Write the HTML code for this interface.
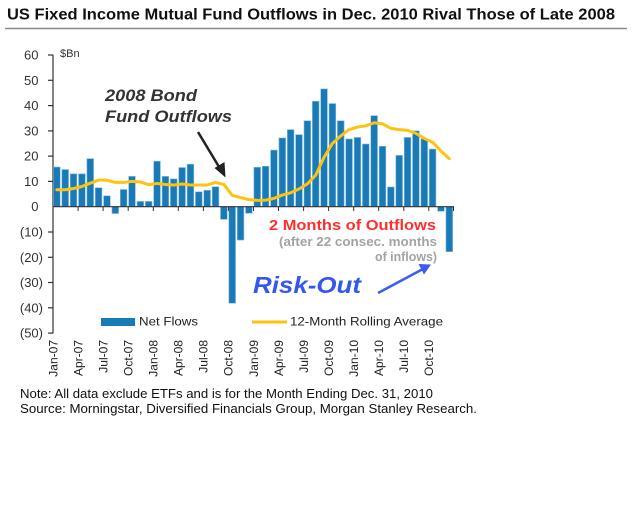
<!DOCTYPE html>
<html>
<head>
<meta charset="utf-8">
<style>
html,body{margin:0;padding:0;background:#fff;}
svg{display:block;}
text{font-family:"Liberation Sans",Arial,sans-serif;}
</style>
</head>
<body>
<svg width="640" height="511" viewBox="0 0 640 511" xmlns="http://www.w3.org/2000/svg">
<rect x="0" y="0" width="640" height="511" fill="#fff"/>
<!-- Title -->
<text x="7" y="19.5" font-size="16" font-weight="bold" fill="#111" textLength="608" lengthAdjust="spacingAndGlyphs">US Fixed Income Mutual Fund Outflows in Dec. 2010 Rival Those of Late 2008</text>
<line x1="5" y1="28.5" x2="627" y2="28.5" stroke="#8a8a8a" stroke-width="1.5"/>

<!-- Y axis labels -->
<g font-size="13" fill="#333" text-anchor="end">
<text x="38.5" y="59.5">60</text>
<text x="38.5" y="84.8">50</text>
<text x="38.5" y="110.1">40</text>
<text x="38.5" y="135.4">30</text>
<text x="38.5" y="160.6">20</text>
<text x="38.5" y="185.9">10</text>
<text x="38.5" y="211.2">0</text>
<text x="43" y="236.5">(10)</text>
<text x="43" y="261.8">(20)</text>
<text x="43" y="287.0">(30)</text>
<text x="43" y="312.3">(40)</text>
<text x="43" y="337.6">(50)</text>
</g>
<text x="60" y="57" font-size="11" fill="#333">$Bn</text>

<!-- Y ticks and axis -->
<g stroke="#333" stroke-width="1.2">
<line x1="53" y1="54.6" x2="53" y2="333.4"/>
<line x1="48" y1="55" x2="53" y2="55"/>
<line x1="48" y1="80.3" x2="53" y2="80.3"/>
<line x1="48" y1="105.6" x2="53" y2="105.6"/>
<line x1="48" y1="130.9" x2="53" y2="130.9"/>
<line x1="48" y1="156.1" x2="53" y2="156.1"/>
<line x1="48" y1="181.4" x2="53" y2="181.4"/>
<line x1="48" y1="232" x2="53" y2="232"/>
<line x1="48" y1="257.3" x2="53" y2="257.3"/>
<line x1="48" y1="282.5" x2="53" y2="282.5"/>
<line x1="48" y1="307.8" x2="53" y2="307.8"/>
<line x1="48" y1="333.1" x2="53" y2="333.1"/>
</g>

<!-- Bars -->
<g fill="#1a7ab5" stroke="#86bde0" stroke-width="0.6">
<rect x="53.5" y="167.01" width="6.7" height="39.69"/>
<rect x="61.85" y="169.54" width="6.7" height="37.16"/>
<rect x="70.2" y="173.84" width="6.7" height="32.86"/>
<rect x="78.55" y="173.84" width="6.7" height="32.86"/>
<rect x="86.9" y="158.67" width="6.7" height="48.03"/>
<rect x="95.25" y="187.74" width="6.7" height="18.96"/>
<rect x="103.6" y="195.83" width="6.7" height="10.87"/>
<rect x="111.95" y="206.7" width="6.7" height="6.83"/>
<rect x="120.3" y="189.51" width="6.7" height="17.19"/>
<rect x="128.65" y="176.36" width="6.7" height="30.34"/>
<rect x="137.0" y="201.39" width="6.7" height="5.31"/>
<rect x="145.35" y="201.39" width="6.7" height="5.31"/>
<rect x="153.7" y="161.2" width="6.7" height="45.5"/>
<rect x="162.05" y="176.36" width="6.7" height="30.34"/>
<rect x="170.4" y="178.89" width="6.7" height="27.81"/>
<rect x="178.75" y="167.52" width="6.7" height="39.18"/>
<rect x="187.1" y="164.23" width="6.7" height="42.47"/>
<rect x="195.45" y="191.78" width="6.7" height="14.92"/>
<rect x="203.8" y="190.27" width="6.7" height="16.43"/>
<rect x="212.15" y="186.73" width="6.7" height="19.97"/>
<rect x="220.5" y="206.7" width="6.7" height="12.64"/>
<rect x="228.85" y="206.7" width="6.7" height="96.57"/>
<rect x="237.2" y="206.7" width="6.7" height="33.37"/>
<rect x="245.55" y="206.7" width="6.7" height="6.57"/>
<rect x="253.9" y="167.26" width="6.7" height="39.44"/>
<rect x="262.25" y="166.25" width="6.7" height="40.45"/>
<rect x="270.6" y="150.07" width="6.7" height="56.63"/>
<rect x="278.95" y="137.94" width="6.7" height="68.76"/>
<rect x="287.3" y="129.6" width="6.7" height="77.1"/>
<rect x="295.65" y="134.65" width="6.7" height="72.05"/>
<rect x="304.0" y="120.75" width="6.7" height="85.95"/>
<rect x="312.35" y="101.28" width="6.7" height="105.42"/>
<rect x="320.7" y="88.9" width="6.7" height="117.8"/>
<rect x="329.05" y="103.56" width="6.7" height="103.14"/>
<rect x="337.4" y="120.75" width="6.7" height="85.95"/>
<rect x="345.75" y="138.95" width="6.7" height="67.75"/>
<rect x="354.1" y="137.43" width="6.7" height="69.27"/>
<rect x="362.45" y="144.01" width="6.7" height="62.69"/>
<rect x="370.8" y="115.69" width="6.7" height="91.01"/>
<rect x="379.15" y="146.28" width="6.7" height="60.42"/>
<rect x="387.5" y="186.98" width="6.7" height="19.72"/>
<rect x="395.85" y="155.38" width="6.7" height="51.32"/>
<rect x="404.2" y="137.43" width="6.7" height="69.27"/>
<rect x="412.55" y="130.86" width="6.7" height="75.84"/>
<rect x="420.9" y="138.95" width="6.7" height="67.75"/>
<rect x="429.25" y="149.06" width="6.7" height="57.64"/>
<rect x="437.6" y="206.7" width="6.7" height="4.55"/>
<rect x="445.95" y="206.7" width="6.7" height="45.0"/>
</g>

<!-- X axis -->
<line x1="53" y1="206.7" x2="454" y2="206.7" stroke="#333" stroke-width="1.2"/>
<g stroke="#333" stroke-width="1">
<line x1="78.1" y1="206.7" x2="211" y2="206.7" stroke="none"/>
<line x1="78.1" y1="206.7" x2="78.1" y2="211"/>
<line x1="103.1" y1="206.7" x2="103.1" y2="211"/>
<line x1="128.2" y1="206.7" x2="128.2" y2="211"/>
<line x1="153.3" y1="206.7" x2="153.3" y2="211"/>
<line x1="178.3" y1="206.7" x2="178.3" y2="211"/>
<line x1="203.4" y1="206.7" x2="203.4" y2="211"/>
<line x1="228.4" y1="206.7" x2="228.4" y2="211"/>
<line x1="253.5" y1="206.7" x2="253.5" y2="211"/>
<line x1="278.5" y1="206.7" x2="278.5" y2="211"/>
<line x1="303.6" y1="206.7" x2="303.6" y2="211"/>
<line x1="328.6" y1="206.7" x2="328.6" y2="211"/>
<line x1="353.7" y1="206.7" x2="353.7" y2="211"/>
<line x1="378.7" y1="206.7" x2="378.7" y2="211"/>
<line x1="403.8" y1="206.7" x2="403.8" y2="211"/>
<line x1="428.8" y1="206.7" x2="428.8" y2="211"/>
<line x1="453.5" y1="206.7" x2="453.5" y2="211"/>
</g>

<!-- Rolling average -->
<polyline fill="none" stroke="#ffc20e" stroke-width="3" stroke-linejoin="round" stroke-linecap="round"
points="56.85,189.76 65.2,189.76 73.55,188.5 81.9,186.5 90.25,183.19 98.6,180.16 106.95,180.16 115.3,182.43 123.65,182.43 132.0,181.42 140.35,181.93 148.7,184.71 157.05,183.44 165.4,184.45 173.75,184.96 182.1,183.95 190.45,184.96 198.8,184.96 207.15,184.96 215.5,182.43 223.85,184.45 232.2,195.3 240.55,197.6 248.9,199.62 257.25,200.38 265.6,200.13 273.95,198.36 282.3,195.07 290.65,192.8 299.0,189.0 307.35,183.95 315.7,175.1 324.05,157.4 332.4,143.5 340.75,135.9 349.1,129.6 357.45,127.07 365.8,125.8 374.15,122.77 382.5,123.78 390.85,128.33 399.2,129.6 407.55,130.35 415.9,133.39 424.25,138.44 432.6,142.24 440.95,151.08 449.3,158.67"/>

<!-- X labels -->
<g font-size="12" fill="#222" text-anchor="end">
<text transform="translate(57.4,340) rotate(-90)">Jan-07</text>
<text transform="translate(82.4,340) rotate(-90)">Apr-07</text>
<text transform="translate(107.5,340) rotate(-90)">Jul-07</text>
<text transform="translate(132.5,340) rotate(-90)">Oct-07</text>
<text transform="translate(157.6,340) rotate(-90)">Jan-08</text>
<text transform="translate(182.6,340) rotate(-90)">Apr-08</text>
<text transform="translate(207.7,340) rotate(-90)">Jul-08</text>
<text transform="translate(232.7,340) rotate(-90)">Oct-08</text>
<text transform="translate(257.8,340) rotate(-90)">Jan-09</text>
<text transform="translate(282.8,340) rotate(-90)">Apr-09</text>
<text transform="translate(307.9,340) rotate(-90)">Jul-09</text>
<text transform="translate(332.9,340) rotate(-90)">Oct-09</text>
<text transform="translate(358.0,340) rotate(-90)">Jan-10</text>
<text transform="translate(383.0,340) rotate(-90)">Apr-10</text>
<text transform="translate(408.1,340) rotate(-90)">Jul-10</text>
<text transform="translate(433.1,340) rotate(-90)">Oct-10</text>
</g>

<!-- Legend -->
<rect x="101" y="318" width="34" height="8" fill="#1a7ab5"/>
<text x="139" y="325.5" font-size="11.5" fill="#222" textLength="59" lengthAdjust="spacingAndGlyphs">Net Flows</text>
<line x1="252" y1="322" x2="287" y2="322" stroke="#ffc20e" stroke-width="3"/>
<text x="290" y="325.5" font-size="11.5" fill="#222" textLength="153" lengthAdjust="spacingAndGlyphs">12-Month Rolling Average</text>

<!-- 2008 annotation -->
<g font-size="17" font-weight="bold" font-style="italic" fill="#333">
<text x="105" y="101" textLength="92" lengthAdjust="spacingAndGlyphs">2008 Bond</text>
<text x="105" y="122" textLength="127" lengthAdjust="spacingAndGlyphs">Fund Outflows</text>
</g>
<line x1="198" y1="132" x2="220" y2="168.5" stroke="#222" stroke-width="2.5"/>
<polygon points="225.5,177.5 214.5,168 224.5,162" fill="#222"/>

<!-- Outflows annotation -->
<text x="269" y="230" font-size="14.5" font-weight="bold" fill="#ff2f2f" textLength="167" lengthAdjust="spacingAndGlyphs">2 Months of Outflows</text>
<text x="279" y="246" font-size="13" font-weight="bold" fill="#a3a3a3" textLength="158" lengthAdjust="spacingAndGlyphs">(after 22 consec. months</text>
<text x="375" y="261" font-size="13" font-weight="bold" fill="#a3a3a3" textLength="62" lengthAdjust="spacingAndGlyphs">of inflows)</text>

<!-- Risk-Out -->
<text x="253" y="293" font-size="23" font-weight="bold" font-style="italic" fill="#3457ee" textLength="108" lengthAdjust="spacingAndGlyphs">Risk-Out</text>
<line x1="378" y1="293" x2="422" y2="269.5" stroke="#3b5cf0" stroke-width="2.5"/>
<polygon points="431,264.5 418.5,264 424,274.5" fill="#3b5cf0"/>

<!-- Notes -->
<text x="20" y="398" font-size="12.5" fill="#111" textLength="413" lengthAdjust="spacingAndGlyphs">Note: All data exclude ETFs and is for the Month Ending Dec. 31, 2010</text>
<text x="20" y="413" font-size="12.5" fill="#111" textLength="457" lengthAdjust="spacingAndGlyphs">Source: Morningstar, Diversified Financials Group, Morgan Stanley Research.</text>
</svg>
</body>
</html>
